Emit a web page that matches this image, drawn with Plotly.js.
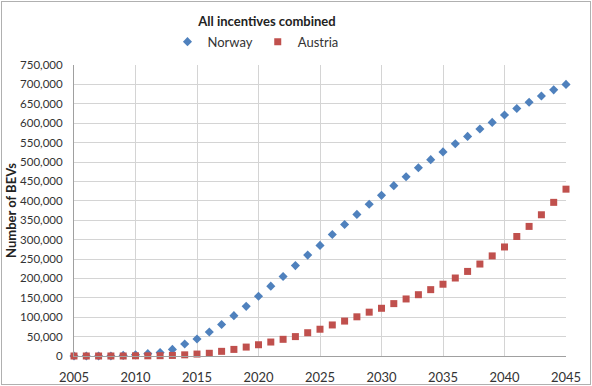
<!DOCTYPE html>
<html><head><meta charset="utf-8">
<script src="https://cdn.plot.ly/plotly-3.0.1.min.js"></script>
<style>html,body{margin:0;padding:0;background:#fff}#frame{position:absolute;left:1px;top:1px;width:588px;height:382px;border:1px solid #b0b0b0}#chart{position:absolute;left:0;top:0;width:592px;height:386px}</style>
</head><body><div id="frame"></div><div id="chart"></div>
<script>
const years = [];
for (let y = 2005; y <= 2045; y++) years.push(y);
const norway = [0,0,0,0,1500,3000,6000,9000,17000,31000,44000,62000,81000,104000,128000,154000,180000,205000,233000,260000,285000,313000,339000,365000,391000,414000,439000,462000,485000,506000,526000,547000,566000,585000,602000,621000,638000,654000,670000,686000,700000];
const austria = [0,0,0,0,0,500,500,800,1500,3000,5000,7000,12000,17000,23000,29000,36000,43000,50000,60000,69000,80000,90000,101000,113000,123000,135000,147000,158000,171000,185000,201000,218000,237000,258000,281000,308000,334000,364000,396000,430000];
const font = "Lato, 'Open Sans', sans-serif";
const traces = [
 {x: years, y: norway, name: 'Norway', type: 'scatter', mode: 'markers', cliponaxis: false,
  marker: {symbol: 'diamond', size: 7, color: '#4F81BD'}},
 {x: years, y: austria, name: 'Austria', type: 'scatter', mode: 'markers', cliponaxis: false,
  marker: {symbol: 'square', size: 7, color: '#C0504D'}}
];
const layout = {
 width: 592, height: 386,
 margin: {l: 74, r: 26, t: 65, b: 30},
 paper_bgcolor: 'rgba(0,0,0,0)', plot_bgcolor: '#fff',
 font: {family: font, color: '#333'},
 title: {text: '<b>All incentives combined</b>', x: 0.451, xanchor: 'center', y: 0.945, yanchor: 'middle', font: {size: 13, color: '#222', family: font}},
 showlegend: true,
 legend: {orientation: 'h', x: 0.19, xanchor: 'left', y: 1.08, yanchor: 'middle', font: {size: 13, color: '#333'},
   itemwidth: 30, tracegroupgap: 0},
 xaxis: {range: [2005, 2045], dtick: 5, tick0: 2005, showgrid: true, gridcolor: '#d4d4d4', zeroline: false,
   showline: true, linecolor: '#a0a0a0', ticks: 'outside', ticklen: 9, tickcolor: 'rgba(0,0,0,0)', tickfont: {size: 13, color: '#333'}},
 yaxis: {range: [0, 750000], dtick: 50000, tickformat: ',', showgrid: true, gridcolor: '#d4d4d4', zeroline: false,
   showline: true, linecolor: '#a0a0a0', ticks: 'outside', ticklen: 8, tickcolor: 'rgba(0,0,0,0)', tickfont: {size: 11.5, color: '#333'},
   title: {text: '<b>Number of BEVs</b>', font: {size: 13, color: '#222'}, standoff: 0}}
};
Plotly.newPlot('chart', traces, layout, {displayModeBar: false, staticPlot: true});
</script></body></html>
